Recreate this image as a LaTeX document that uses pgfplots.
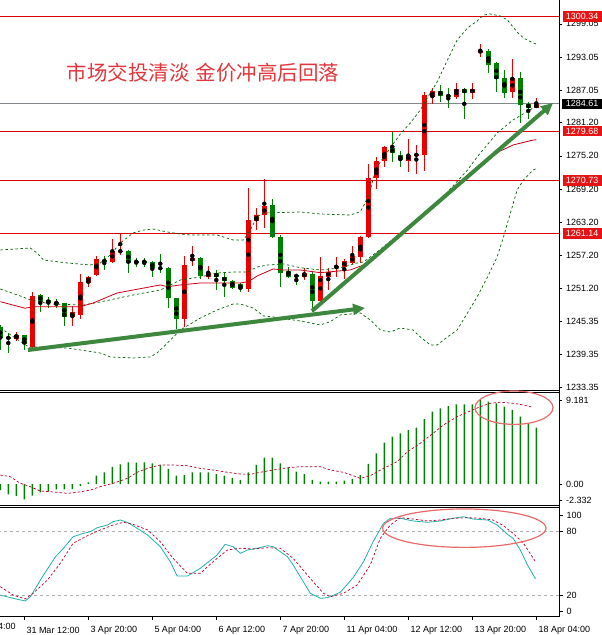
\documentclass[border=0pt]{standalone}
\usepackage{pgfplots}
\pgfplotsset{compat=1.18}
\usepackage{pgfplotstable}
\usepackage{fontspec}
\setmainfont{Liberation Sans}
\newfontfamily\cjk{Noto Sans CJK SC}
\usetikzlibrary{arrows.meta}
\definecolor{cRed}{RGB}{235,0,0}
\definecolor{cGreen}{RGB}{0,128,0}
\definecolor{bandGreen}{RGB}{0,100,0}
\definecolor{maRed}{RGB}{200,0,20}
\definecolor{sigRed}{RGB}{190,0,40}
\definecolor{kTeal}{RGB}{32,178,170}
\definecolor{lvlGray}{RGB}{175,175,175}
\definecolor{hRed}{RGB}{220,0,0}
\definecolor{pGray}{RGB}{130,135,140}
\definecolor{boxRed}{RGB}{228,20,20}
\definecolor{arrowGreen}{RGB}{62,135,62}
\definecolor{ellRed}{RGB}{232,105,105}
\definecolor{titleRed}{RGB}{225,55,60}
\newcommand\lab{\fontsize{9}{10}\selectfont}

\pgfplotstableread{
i o h l c
2 1242.11 1243.43 1241.80 1242.83
4 1240.61 1250.66 1240.25 1249.88
9 1246.03 1248.07 1244.46 1247.04
10 1246.45 1253.85 1245.67 1252.46
11 1252.28 1253.49 1251.45 1253.37
12 1253.67 1257.11 1253.49 1256.51
14 1256.07 1260.12 1255.79 1258.01
15 1257.88 1261.21 1257.29 1258.06
23 1245.72 1257.11 1244.22 1255.48
24 1256.26 1258.91 1255.35 1256.74
26 1253.37 1255.30 1252.90 1254.03
31 1251.09 1269.39 1250.66 1263.61
32 1263.43 1265.72 1261.80 1264.51
33 1264.51 1271.02 1262.11 1266.14
38 1253.26 1254.88 1252.77 1253.98
40 1249.03 1256.98 1248.56 1253.49
41 1253.37 1254.88 1250.96 1254.27
42 1255.06 1256.98 1253.26 1255.30
43 1255.17 1256.51 1252.90 1256.20
44 1255.89 1258.91 1255.66 1257.11
45 1256.98 1260.72 1255.89 1260.59
46 1260.59 1273.73 1260.30 1271.14
47 1271.14 1275.05 1269.16 1274.27
48 1274.32 1276.98 1273.13 1276.74
51 1274.32 1278.19 1272.34 1275.30
52 1275.30 1277.16 1271.92 1275.48
53 1275.35 1286.79 1272.52 1286.19
54 1285.78 1287.40 1284.57 1286.97
57 1285.89 1288.41 1285.47 1287.22
59 1286.61 1288.31 1285.52 1287.28
60 1293.91 1295.41 1293.00 1294.20
64 1286.68 1292.64 1285.60 1289.21
67 1283.90 1285.60 1283.79 1284.51
}\upc

\pgfplotstableread{
i o h l c
0 1244.28 1244.64 1240.12 1242.29
1 1242.47 1243.14 1239.63 1242.17
3 1242.83 1242.83 1240.12 1241.21
5 1250.06 1250.24 1247.04 1248.85
6 1249.16 1249.75 1247.66 1248.67
7 1248.85 1249.28 1247.66 1248.43
8 1248.56 1248.56 1244.46 1246.03
13 1256.38 1257.11 1254.58 1256.07
16 1258.01 1258.19 1253.98 1255.89
17 1256.20 1256.80 1255.07 1255.97
18 1256.20 1256.69 1255.07 1255.97
19 1256.07 1256.26 1253.37 1254.88
20 1254.99 1257.47 1253.98 1254.81
21 1254.99 1255.17 1247.66 1249.57
22 1249.57 1249.57 1243.86 1245.72
25 1256.74 1256.87 1252.90 1253.49
27 1254.03 1254.58 1250.96 1253.26
28 1253.26 1254.09 1249.75 1252.64
29 1252.59 1252.77 1251.09 1251.38
30 1252.05 1252.17 1250.55 1251.14
34 1266.32 1267.35 1260.30 1260.48
35 1260.48 1260.90 1251.45 1254.09
36 1254.39 1255.06 1253.08 1253.26
37 1253.67 1253.67 1251.87 1253.37
39 1253.85 1254.27 1247.04 1249.03
49 1276.56 1279.56 1274.14 1275.66
50 1275.35 1276.08 1273.13 1274.45
55 1286.97 1288.00 1284.98 1286.07
56 1286.19 1287.40 1283.79 1285.89
58 1287.22 1287.40 1281.80 1286.61
61 1294.14 1294.45 1290.22 1291.61
62 1292.03 1292.16 1286.68 1289.08
63 1289.21 1290.71 1285.60 1286.61
65 1289.21 1290.40 1281.19 1284.33
66 1284.62 1284.87 1281.80 1283.79
}\dnc

\pgfplotstableread{
i v
0 -0.66
1 -1.13
2 -1.31
3 -1.67
4 -1.28
5 -0.91
6 -0.77
7 -0.58
8 -0.58
9 -0.55
10 -0.22
11 0.19
12 0.91
13 1.28
14 1.86
15 2.15
16 2.37
17 2.33
18 2.37
19 2.26
20 2.08
21 1.64
22 0.91
23 0.98
24 1.28
25 1.28
26 1.28
27 1.09
28 0.91
29 0.66
30 0.44
31 1.28
32 2.08
33 2.88
34 2.88
35 2.26
36 1.78
37 1.35
38 1.09
39 0.44
40 0.26
41 0.26
42 0.26
43 0.37
44 0.55
45 0.98
46 2.19
47 3.35
48 4.52
49 5.17
50 5.54
51 5.90
52 6.15
53 7.10
54 7.90
55 8.27
56 8.52
57 8.71
58 8.71
59 8.71
60 9.18
61 9.00
62 8.82
63 8.45
64 8.09
65 7.36
66 6.63
67 6.15
}\macdh

\pgfplotsset{
  mt/.style={scale only axis, width=559.3pt, xmin=-0.0375, xmax=69.875,
    enlargelimits=false, axis line style={draw=none},
    tick align=outside, ytick pos=right, yticklabel pos=right, xtick pos=bottom,
    major tick length=3pt, tick style={black, line width=0.6pt},
    yticklabel style={anchor=west, inner sep=0pt, xshift=3.5pt, font=\lab},
    xticklabel style={anchor=west, inner sep=0pt, xshift=2pt, yshift=-10pt, font=\lab}},
  candle/.style 2 args={only marks, mark=none, forget plot,
    error bars/.cd, y dir=both, y explicit, error mark=none,
    error bar style={line width=#1, color=#2}},
}

\begin{document}
\begin{tikzpicture}
% ---------------- main price panel ----------------
\begin{axis}[mt, at={(0pt,244.7pt)}, anchor=south west, height=390.3pt,
  ymin=1232.84, ymax=1303.357, xtick=\empty,
  ytick={1233.35,1239.35,1245.35,1251.20,1257.20,1263.20,1269.20,1275.20,1281.20,1287.05,1293.05,1299.05},
  yticklabels={1233.35,1239.35,1245.35,1251.20,1257.20,1263.20,1269.20,1275.20,1281.20,1287.05,1293.05,1299.05}]
\addplot[hRed, line width=0.9pt] coordinates {(-1,1300.34) (71,1300.34)};
\addplot[hRed, line width=0.9pt] coordinates {(-1,1279.68) (71,1279.68)};
\addplot[hRed, line width=0.9pt] coordinates {(-1,1270.73) (71,1270.73)};
\addplot[hRed, line width=0.9pt] coordinates {(-1,1261.14) (71,1261.14)};
\addplot[pGray, line width=0.9pt] coordinates {(-1,1284.61) (71,1284.61)};
% wicks
\addplot[candle={1pt}{cRed}] table[x=i, y expr={(\thisrow{h}+\thisrow{l})/2}, y error expr={(\thisrow{h}-\thisrow{l})/2}] {\upc};
\addplot[candle={1pt}{cGreen}] table[x=i, y expr={(\thisrow{h}+\thisrow{l})/2}, y error expr={(\thisrow{h}-\thisrow{l})/2}] {\dnc};
% bodies
\addplot[candle={5pt}{cRed}] table[x=i, y expr={(\thisrow{o}+\thisrow{c})/2}, y error expr={abs(\thisrow{c}-\thisrow{o})/2}] {\upc};
\addplot[candle={5pt}{cGreen}] table[x=i, y expr={(\thisrow{o}+\thisrow{c})/2}, y error expr={abs(\thisrow{c}-\thisrow{o})/2}] {\dnc};
% Bollinger bands
\addplot[bandGreen, line width=0.7pt, dash pattern=on 2.5pt off 2.5pt] coordinates {
(0,1258.19)(3.75,1258.55)(4.6,1257.65)(5.4,1256.38)(8.4,1255.84)(11.25,1255.48)(12.5,1255.84)(13.75,1257.29)(15,1259.45)(16.6,1261.26)(17.9,1261.80)(19.1,1261.98)(20.9,1261.44)(22.5,1261.08)(23.75,1260.90)(27.1,1260.90)(29.1,1260.00)(30.4,1260.00)(31.25,1261.80)(32.1,1264.15)(32.9,1264.87)(37.5,1265.06)(40,1264.69)(43.75,1264.51)(45,1265.11)(45.6,1266.68)(46.25,1269.03)(46.9,1272.64)(47.5,1274.09)(50,1279.15)(51.25,1281.13)(52.5,1283.48)(53.75,1286.56)(54.6,1288.54)(55.9,1292.52)(57.1,1296.13)(58.4,1298.30)(59.6,1299.56)(60.4,1300.65)(61.25,1300.83)(62.5,1300.47)(63.4,1299.74)(64.6,1297.57)(65.4,1296.49)(66.6,1295.59)(67,1295.40)};
\addplot[bandGreen, line width=0.7pt, dash pattern=on 2.5pt off 2.5pt] coordinates {
(0,1251.14)(2.5,1249.88)(3.75,1249.16)(6.25,1248.43)(10.4,1248.25)(12.5,1248.80)(16.6,1250.06)(20,1250.96)(22.5,1252.77)(25,1253.31)(27.1,1254.03)(29.1,1254.22)(30.9,1254.22)(32.1,1255.12)(33.4,1255.48)(35.4,1255.66)(37.5,1254.99)(40,1254.58)(42.5,1254.94)(44.6,1255.84)(45.4,1256.02)(47.1,1257.83)(50,1261.26)(55,1267.22)(58.4,1272.64)(59.6,1274.99)(62.1,1279.33)(64.1,1281.68)(66.6,1283.84)(67,1284.10)};
\addplot[bandGreen, line width=0.7pt, dash pattern=on 2.5pt off 2.5pt] coordinates {
(0,1244.10)(3.75,1240.48)(4.1,1240.67)(8.4,1240.48)(12.5,1239.58)(13.75,1238.86)(16.6,1238.68)(18.75,1238.86)(19.6,1239.58)(20.9,1241.39)(22.5,1243.73)(25,1245.90)(27.1,1247.35)(29.1,1248.43)(30,1248.43)(31.6,1247.71)(32.9,1246.27)(34.1,1246.09)(37.5,1245.36)(40,1244.64)(41.25,1245.24)(42.5,1246.45)(45,1246.81)(46.25,1245.54)(47.5,1243.73)(48.75,1243.37)(50,1244.10)(51.6,1243.73)(52.5,1242.47)(53.75,1241.03)(54.6,1241.03)(55.9,1242.47)(57.1,1243.73)(58.4,1246.81)(59.6,1249.70)(60.9,1253.31)(62.1,1256.92)(62.9,1260.54)(63.4,1263.07)(64.1,1266.50)(64.6,1269.03)(65.4,1270.84)(66.6,1272.64)(67,1272.90)};
% moving average
\addplot[maRed, line width=0.8pt] coordinates {
(0,1248.85)(3.1,1247.66)(4.1,1247.95)(10,1247.95)(11.6,1248.61)(14.6,1250.42)(16.6,1250.96)(20,1251.87)(20.9,1251.56)(22.5,1251.87)(25,1252.23)(30,1252.23)(31,1252.46)(32.1,1253.49)(34.1,1254.76)(35.4,1254.58)(37.5,1254.58)(40,1254.09)(43.75,1254.58)(45.4,1255.48)(50,1260.90)(53.75,1265.42)(57.9,1270.66)(60.9,1274.45)(62.5,1276.08)(64.1,1277.16)(66.6,1278.06)(67,1278.10)};
% trend arrows
\addplot[arrowGreen, line width=4pt, -{Triangle[length=12pt,width=11pt]}] coordinates {(3.46,1240.12) (45.59,1247.71)};
\addplot[arrowGreen, line width=4pt, -{Triangle[length=12pt,width=11pt]}] coordinates {(38.96,1247.17) (69.09,1284.75)};
\coordinate (b1) at (axis cs:69.875,1300.34);
\coordinate (b2) at (axis cs:69.875,1284.61);
\coordinate (b3) at (axis cs:69.875,1279.68);
\coordinate (b4) at (axis cs:69.875,1270.73);
\coordinate (b5) at (axis cs:69.875,1261.14);
\end{axis}

% ---------------- MACD panel ----------------
\begin{axis}[mt, at={(0pt,129.3pt)}, anchor=south west, height=113.4pt,
  ymin=-2.37, ymax=10.02, xtick=\empty,
  ytick={-1.75,0,9.181}, yticklabels={-2.332,0.00,9.181}]
\addplot[ybar, bar width=1.4pt, bar shift=0pt, fill=cGreen, draw=none] table[x=i, y=v] {\macdh};
\addplot[sigRed, line width=0.7pt, dash pattern=on 2.5pt off 2pt] coordinates {
(0,0.98)(1.25,0.80)(2.5,0.08)(3.75,-0.29)(5,-0.77)(6.25,-0.84)(8.4,-1.02)(9.6,-0.91)(11.25,-0.66)(12.5,-0.29)(14.1,0.08)(15.9,0.62)(17.1,1.28)(18.4,1.71)(20,2.08)(21.6,2.08)(23.4,2.00)(25,1.71)(26.6,1.53)(28.4,1.28)(30,1.09)(31.25,1.06)(32.5,1.28)(34.1,1.53)(35.9,1.78)(37.5,1.89)(40,1.89)(41.25,1.53)(42.9,1.28)(44.1,0.91)(45,0.62)(46.25,0.91)(47.9,1.71)(49.6,2.44)(50.9,3.53)(52.5,4.45)(54.1,5.54)(55.4,6.45)(57.1,7.36)(58.75,7.98)(60,8.45)(61.25,8.82)(62.5,8.93)(64.1,8.82)(65.4,8.63)(66.6,8.38)};
\end{axis}

% ---------------- Stochastic panel ----------------
\begin{axis}[mt, at={(0pt,18.3pt)}, anchor=south west, height=108.7pt,
  ymin=-0.47, ymax=102.24,
  ytick={4.9,20,80,94.96}, yticklabels={0,20,80,100},
  xtick={3,11,19,27,35,43,51,59,67}, major tick length=3.5pt,
  xticklabels={31 Mar 12:00,3 Apr 20:00,5 Apr 04:00,6 Apr 12:00,7 Apr 20:00,11 Apr 04:00,12 Apr 12:00,13 Apr 20:00,18 Apr 04:00}]
\addplot[lvlGray, line width=0.6pt, dash pattern=on 3pt off 3pt] coordinates {(-1,20) (71,20)};
\addplot[lvlGray, line width=0.6pt, dash pattern=on 3pt off 3pt] coordinates {(-1,80) (71,80)};
\addplot[kTeal, line width=0.8pt] coordinates {
(0,20.0)(1.6,16.9)(3.1,14.4)(3.75,18.4)(5.4,38.9)(6.9,56.2)(7.9,64.2)(9.1,75.1)(10.4,78.3)(11.25,79.8)(12.1,83.6)(13.4,86.2)(14.1,89.3)(15,90.9)(15.9,88.7)(17.1,83.1)(18.4,76.7)(20,65.7)(21.25,51.5)(22.1,38.0)(23.4,38.0)(25,45.3)(27.1,57.8)(28.1,67.9)(29.1,65.7)(30,59.4)(30.9,62.6)(32.1,64.2)(33.4,66.6)(34.1,65.7)(35.9,56.2)(36.6,48.4)(37.5,37.3)(38.75,21.6)(40,16.9)(40.9,17.5)(42.5,22.6)(44.1,36.4)(45.4,51.5)(46.6,70.4)(47.9,87.8)(48.75,92.5)(50,92.5)(51.6,90.0)(53.4,88.7)(55,90.0)(56.6,92.5)(57.9,94.0)(59.1,91.8)(60.9,90.9)(62.1,86.2)(63.4,77.4)(64.1,73.6)(65,62.6)(65.9,48.4)(66.9,35.2)};
\addplot[sigRed, line width=0.7pt, dash pattern=on 2.5pt off 2pt] coordinates {
(0,27.9)(1.6,20.0)(3.1,16.3)(4.1,21.6)(5.9,34.2)(7.5,50.0)(9.1,68.9)(10.9,76.1)(12.5,81.5)(14.1,86.2)(15.4,88.7)(16.6,86.8)(18.4,81.5)(20,70.4)(21.6,54.7)(23.4,40.5)(25,40.5)(26.6,51.5)(28.4,62.6)(30,64.2)(31.6,63.5)(33.4,64.7)(35,64.2)(36.6,54.7)(37.5,46.8)(39.1,32.6)(40.4,21.6)(41.25,18.4)(42.9,21.6)(44.6,29.5)(46.25,48.4)(47.5,73.6)(48.75,86.2)(50,93.1)(51.6,91.8)(53.4,90.0)(55,90.9)(56.6,92.5)(58.4,93.1)(60,92.5)(61.6,90.9)(62.9,85.5)(64.1,78.3)(65.4,68.9)(66.9,51.5)};
\coordinate (xl) at (axis cs:-5,-0.47);
\end{axis}

% frame lines
\draw[black, line width=0.9pt] (0pt,244.7pt) -- (559.3pt,244.7pt);
\draw[black, line width=0.9pt] (0pt,242.7pt) -- (559.3pt,242.7pt);
\draw[black, line width=0.9pt] (0pt,129.3pt) -- (559.3pt,129.3pt);
\draw[black, line width=0.9pt] (0pt,127.3pt) -- (559.3pt,127.3pt);
\draw[black, line width=0.9pt] (0pt,18.3pt) -- (559.3pt,18.3pt);
\draw[black, line width=0.9pt] (559.3pt,18.3pt) -- (559.3pt,635pt);

% price boxes
\node[anchor=west, fill=boxRed, text=white, font=\lab, inner xsep=3pt, inner ysep=0pt, minimum height=10.5pt, text width=40pt, align=left, xshift=3.4pt] at (b1) {1300.34};
\node[anchor=west, fill=black, text=white, font=\lab, inner xsep=4pt, inner ysep=0pt, minimum height=10.5pt, text width=40pt, align=left, xshift=2.4pt] at (b2) {1284.61};
\node[anchor=west, fill=boxRed, text=white, font=\lab, inner xsep=3pt, inner ysep=0pt, minimum height=10.5pt, text width=40pt, align=left, xshift=3.4pt] at (b3) {1279.68};
\node[anchor=west, fill=boxRed, text=white, font=\lab, inner xsep=3pt, inner ysep=0pt, minimum height=10.5pt, text width=40pt, align=left, xshift=3.4pt] at (b4) {1270.73};
\node[anchor=west, fill=boxRed, text=white, font=\lab, inner xsep=3pt, inner ysep=0pt, minimum height=10.5pt, text width=40pt, align=left, xshift=3.4pt] at (b5) {1261.14};
\node[anchor=west, inner sep=0pt, font=\lab, xshift=2pt, yshift=-10pt] at (xl) {30 Mar 04:00};

% annotations
\draw[ellRed, line width=1.2pt] (514pt,227.3pt) ellipse [x radius=39pt, y radius=16.7pt];
\draw[ellRed, line width=1.2pt] (464.3pt,106.8pt) ellipse [x radius=81.7pt, y radius=19.2pt];
\node[anchor=west, inner sep=0pt, text=titleRed, font=\cjk\fontsize{20.5}{22}\selectfont] at (66.7pt,562.5pt) {市场交投清淡\hspace{6pt}金价冲高后回落};

\pgfresetboundingbox
\useasboundingbox (0pt,0pt) rectangle (602pt,635pt);
\end{tikzpicture}
\end{document}
